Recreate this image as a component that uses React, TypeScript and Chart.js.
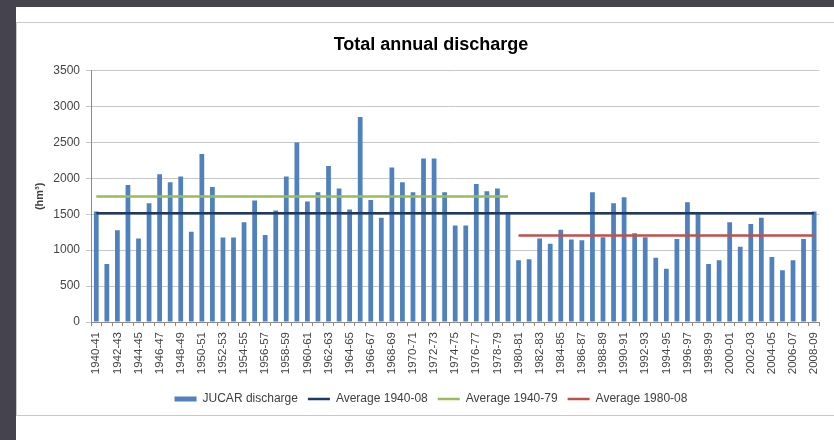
import React, { useEffect, useRef } from 'react';
import { Chart, registerables } from 'chart.js';

Chart.register(...registerables);

const seasons: string[] = [
  '1940-41', '1941-42', '1942-43', '1943-44', '1944-45', '1945-46', '1946-47', '1947-48', '1948-49', '1949-50',
  '1950-51', '1951-52', '1952-53', '1953-54', '1954-55', '1955-56', '1956-57', '1957-58', '1958-59', '1959-60',
  '1960-61', '1961-62', '1962-63', '1963-64', '1964-65', '1965-66', '1966-67', '1967-68', '1968-69', '1969-70',
  '1970-71', '1971-72', '1972-73', '1973-74', '1974-75', '1975-76', '1976-77', '1977-78', '1978-79', '1979-80',
  '1980-81', '1981-82', '1982-83', '1983-84', '1984-85', '1985-86', '1986-87', '1987-88', '1988-89', '1989-90',
  '1990-91', '1991-92', '1992-93', '1993-94', '1994-95', '1995-96', '1996-97', '1997-98', '1998-99', '1999-00',
  '2000-01', '2001-02', '2002-03', '2003-04', '2004-05', '2005-06', '2006-07', '2007-08', '2008-09',
];

const discharge: number[] = [
  1537, 808, 1277, 1908, 1161, 1653, 2057, 1945, 2024, 1258,
  2340, 1880, 1175, 1175, 1388, 1690, 1212, 1551, 2024, 2498,
  1676, 1806, 2173, 1857, 1565, 2855, 1699, 1453, 2150, 1945,
  1806, 2275, 2275, 1806, 1342, 1342, 1922, 1820, 1857, 1505,
  859, 873, 1161, 1091, 1286, 1147, 1138, 1806, 1179, 1653,
  1736, 1235, 1179, 896, 743, 1156, 1667, 1504, 808, 859,
  1388, 1049, 1365, 1453, 905, 720, 859, 1156, 1537,
];

const avg1940to08 = 1514;
const avg1940to79 = 1746;
const avg1980to08 = 1203;

const seriesNames: string[] = ['JUCAR discharge', 'Average 1940-08', 'Average 1940-79', 'Average 1980-08'];
const seriesColors: string[] = ['#4f81bd', '#1f3864', '#9bbb59', '#c0504d'];

const Y_MIN = 0;
const Y_MAX = 3500;
const Y_STEP = 500;

const FONT = "'Liberation Sans', Arial, sans-serif";

export default function App() {
  const ref = useRef<HTMLCanvasElement | null>(null);

  useEffect(() => {
    if (!ref.current) return;
    const yTitlePlugin = {
      id: 'yTitle',
      afterDraw(chart: any) {
        const { ctx, chartArea } = chart;
        ctx.save();
        ctx.translate(23, (chartArea.top + chartArea.bottom) / 2);
        ctx.rotate(-Math.PI / 2);
        ctx.font = `bold 11px ${FONT}`;
        ctx.fillStyle = '#404040';
        ctx.textAlign = 'center';
        ctx.textBaseline = 'middle';
        ctx.fillText('(hm³)', 0, 0);
        ctx.restore();
      },
    };

    const first = seasons[0];
    const last = seasons[seasons.length - 1];
    const lineDs = (i: number, from: string, to: string, value: number) => ({
      type: 'line' as const,
      label: seriesNames[i],
      data: [
        { x: from, y: value },
        { x: to, y: value },
      ],
      borderColor: seriesColors[i],
      backgroundColor: seriesColors[i],
      borderWidth: 2.5,
      pointRadius: 0,
      pointHoverRadius: 0,
      order: 1,
    });

    const chart = new Chart(ref.current, {
      type: 'bar',
      data: {
        labels: seasons,
        datasets: [
          {
            type: 'bar',
            label: seriesNames[0],
            data: discharge,
            backgroundColor: seriesColors[0],
            borderWidth: 0,
            categoryPercentage: 1,
            barPercentage: 0.45,
            order: 2,
          } as any,
          lineDs(1, first, last, avg1940to08),
          lineDs(2, first, '1979-80', avg1940to79),
          lineDs(3, '1980-81', last, avg1980to08),
        ],
      },
      options: {
        responsive: false,
        animation: false,
        layout: { padding: { left: 22, right: 11, top: 0, bottom: 0 } },
        plugins: {
          tooltip: { enabled: false },
          title: {
            display: true,
            text: 'Total annual discharge',
            color: '#000',
            font: { size: 18, weight: 'bold', family: FONT },
            padding: { top: 11, bottom: 15 },
          },
          legend: {
            position: 'bottom',
            labels: {
              usePointStyle: true,
              pointStyleWidth: 22,
              boxHeight: 5,
              padding: 10,
              color: '#404040',
              font: { size: 12, family: FONT },
              sort: (a: any, b: any) => a.datasetIndex - b.datasetIndex,
              generateLabels: (c: any) => {
                const items = Chart.defaults.plugins.legend.labels.generateLabels(c);
                return items.map((it: any) => {
                  const isBar = it.datasetIndex === 0;
                  const col = seriesColors[it.datasetIndex];
                  return {
                    ...it,
                    pointStyle: isBar ? 'rect' : 'line',
                    fillStyle: col,
                    strokeStyle: col,
                    lineWidth: isBar ? 0 : 2.5,
                  };
                });
              },
            },
          },
        },
        scales: {
          x: {
            grid: { display: true, drawOnChartArea: false, drawTicks: true, tickLength: 4, color: '#8a8a8a', offset: true },
            border: { display: true, color: '#8a8a8a' },
            ticks: {
              autoSkip: false,
              maxRotation: 90,
              minRotation: 90,
              padding: 6,
              color: '#444',
              font: { size: 11.5, family: FONT },
              callback: (_v: any, i: number) => (i % 2 === 0 ? seasons[i] : ''),
            },
            afterFit: (s: any) => {
              s.height = 61;
            },
          },
          y: {
            min: Y_MIN,
            max: Y_MAX,
            ticks: {
              stepSize: Y_STEP,
              padding: 6,
              color: '#444',
              font: { size: 12, family: FONT },
              callback: (v: any) => String(v),
            },
            grid: { color: '#c8c8c8', tickLength: 5, drawTicks: true },
            border: { display: true, color: '#8a8a8a' },
            afterFit: (s: any) => {
              s.width = 52;
            },
          },
        },
      } as any,
      plugins: [yTitlePlugin],
    });
    return () => chart.destroy();
  }, []);

  return (
    <div
      style={{
        position: 'absolute',
        left: 0,
        top: 0,
        width: 834,
        height: 440,
        overflow: 'hidden',
        background: '#45444e',
      }}
    >
      <div style={{ position: 'absolute', left: 16, top: 7, width: 830, height: 440, background: '#fff' }} />
      <div
        style={{
          position: 'absolute',
          left: 16,
          top: 22,
          width: 830,
          height: 392,
          border: '1px solid #c9c9c9',
          background: '#fff',
        }}
      />
      <canvas ref={ref} width={817} height={392} style={{ position: 'absolute', left: 17, top: 23, width: 817, height: 392 }} />
    </div>
  );
}
